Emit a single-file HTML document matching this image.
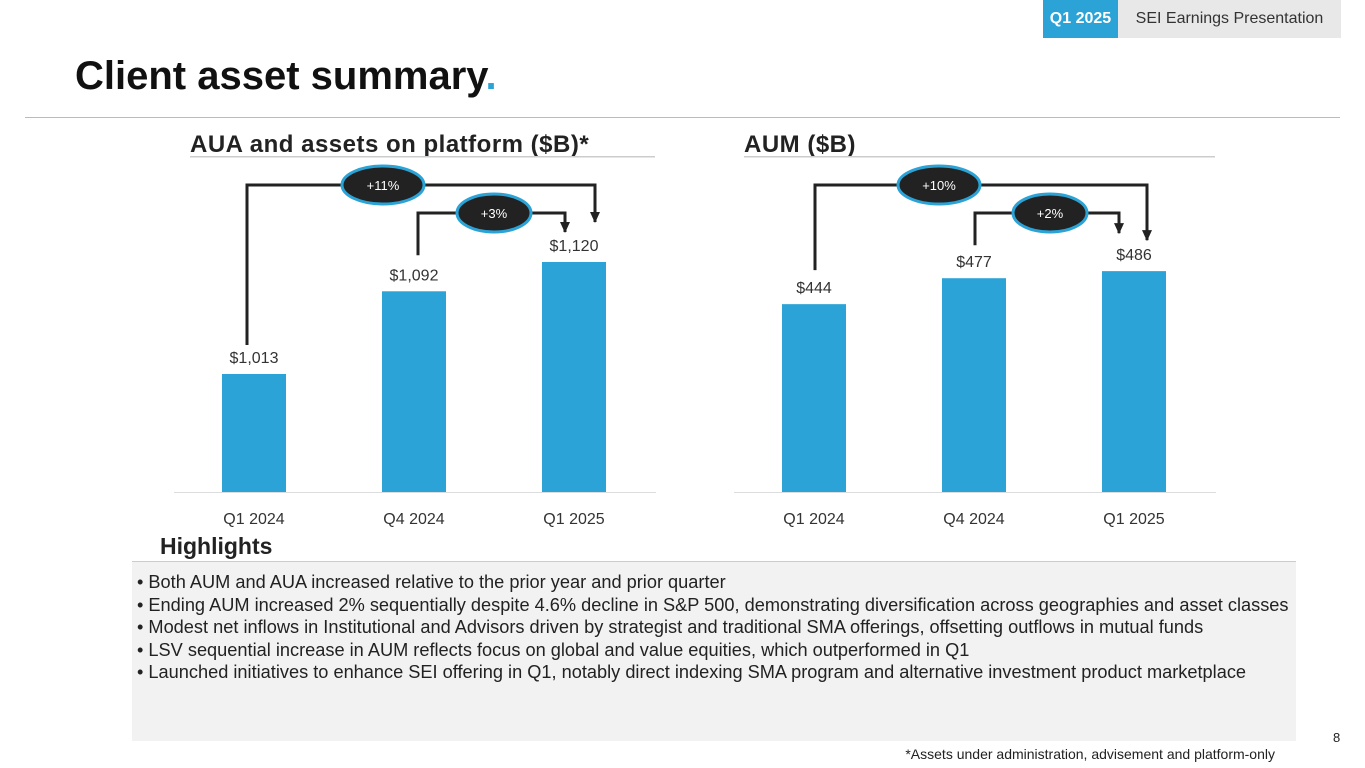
<!DOCTYPE html>
<html><head><meta charset="utf-8"><style>
body{margin:0;width:1365px;height:768px;position:relative;overflow:hidden;background:#fff;font-family:"Liberation Sans",sans-serif;color:#333}
.abs{position:absolute}
</style></head><body>
<div class="abs" style="left:1043px;top:0;width:75px;height:38px;background:#2ba3d6;color:#fff;font-weight:bold;font-size:16px;line-height:38px;text-align:center">Q1 2025</div>
<div class="abs" style="left:1118px;top:0;width:223px;height:38px;background:#e8e8e8;color:#333;font-size:16px;line-height:38px;text-align:center">SEI Earnings Presentation</div>
<div class="abs" style="left:75px;top:54px;font-size:40px;font-weight:900;color:#111">Client asset summary<span style="color:#2ba3d6">.</span></div>
<div class="abs" style="left:25px;top:117px;width:1315px;height:1px;background:#bbb"></div>
<svg class="abs" style="left:0;top:0" width="1365" height="560">
<defs><marker id="ar" markerUnits="userSpaceOnUse" markerWidth="12" markerHeight="12" refX="10" refY="6" orient="auto"><path d="M0,1 L11,6 L0,11 z" fill="#222"/></marker></defs>
<g id="g1"></g><g id="g2"></g>
</svg>
<div class="abs" style="left:160px;top:533px;font-size:23px;font-weight:bold;color:#222">Highlights</div>
<div class="abs" style="left:132px;top:561px;width:1164px;height:179px;background:#f2f2f2;border-top:1px solid #ccc"></div>
<div class="abs" style="left:137px;top:571px;font-size:18.2px;line-height:22.5px;color:#222;white-space:nowrap">
<div>• Both AUM and AUA increased relative to the prior year and prior quarter</div>
<div>• Ending AUM increased 2% sequentially despite 4.6% decline in S&amp;P 500, demonstrating diversification across geographies and asset classes</div>
<div>• Modest net inflows in Institutional and Advisors driven by strategist and traditional SMA offerings, offsetting outflows in mutual funds</div>
<div>• LSV sequential increase in AUM reflects focus on global and value equities, which outperformed in Q1</div>
<div>• Launched initiatives to enhance SEI offering in Q1, notably direct indexing SMA program and alternative investment product marketplace</div>
</div>
<div class="abs" style="right:90px;top:746px;font-size:14px;color:#222">*Assets under administration, advisement and platform-only</div>
<div class="abs" style="left:1333px;top:730px;font-size:13px;color:#222">8</div>
<script>
const categories=["Q1 2024","Q4 2024","Q1 2025"];
const auaValues=[1013,1092,1120];
const auaLabels=["$1,013","$1,092","$1,120"];
const aumValues=[444,477,486];
const aumLabels=["$444","$477","$486"];
const auaChanges=["+11%","+3%"];
const aumChanges=["+10%","+2%"];
const NS="http://www.w3.org/2000/svg";
function mk(p,t,a){const e=document.createElementNS(NS,t);for(const k in a)e.setAttribute(k,a[k]);p.appendChild(e);return e;}
function chart(g,cfg){
  const base=492;
  const y=v=>base-(v-cfg.min)*cfg.k;
  const x=i=>cfg.x0+i*160;
  let t=mk(g,'text',{x:cfg.tx,y:152,'font-size':24,'font-weight':'bold',fill:'#222','letter-spacing':0.5});t.textContent=cfg.title;
  
  
  let r=mk(g,'rect',{x:cfg.tx,y:156,width:cfg.rw,height:1.5,fill:'#ccc'});
  
  
  let ax=mk(g,'rect',{x:cfg.x0-48,y:base,width:482,height:1,fill:'#ddd'});
  
  
  cfg.vals.forEach((v,i)=>{
    const b=mk(g,'rect',{x:x(i),y:y(v),width:64,height:base-y(v),fill:'#2ba3d6'});
    
    
    const l=mk(g,'text',{x:x(i)+32,y:y(v)-11,'text-anchor':'middle','font-size':16,fill:'#333'});l.textContent=cfg.labels[i];
    
    
    const c=mk(g,'text',{x:x(i)+32,y:524,'text-anchor':'middle','font-size':16,fill:'#333'});c.textContent=categories[i];
    
    
  });
  const conns=[[0,2,185,cfg.changes[0]],[1,2,213,cfg.changes[1]]];
  conns.forEach(([a,b,hy,lab],j)=>{
    const xa=x(a)+(j==0?cfg.oa:cfg.ia), xb=x(b)+(j==0?cfg.ob:cfg.ib);
    const ya=y(cfg.vals[a])-(j==0?cfg.os:cfg.is), yb=y(cfg.vals[b])-(j==0?cfg.oe:cfg.ie);
    const p=mk(g,'path',{d:`M${xa},${ya} V${hy} H${xb} V${yb}`,fill:'none',stroke:'#222','stroke-width':3,'marker-end':'url(#ar)'});
    
    
    const cx=j==0?cfg.e1:cfg.e2;
    const e=mk(g,'ellipse',{cx:cx,cy:hy,rx:j==0?41:37,ry:19,fill:'#222',stroke:'#2ba3d6','stroke-width':3});
    
    
    const tt=mk(g,'text',{x:cx,y:hy+5,'text-anchor':'middle','font-size':13,fill:'#fff'});tt.textContent=lab;
    
    
  });
}
chart(document.getElementById('g1'),{title:'AUA and assets on platform ($B)*',tx:190,rw:465,x0:222,min:900.3,k:1.047,vals:auaValues,labels:auaLabels,changes:auaChanges,oa:25,ob:53,ia:36,ib:23,os:29,is:36,oe:40,ie:30,e1:383,e2:494});
chart(document.getElementById('g2'),{title:'AUM ($B)',tx:744,rw:471,x0:782,min:205,k:0.786,vals:aumValues,labels:aumLabels,changes:aumChanges,oa:33,ob:45,ia:33,ib:17,os:34,is:33,oe:31,ie:38,e1:939,e2:1050});
</script>
</body></html>
